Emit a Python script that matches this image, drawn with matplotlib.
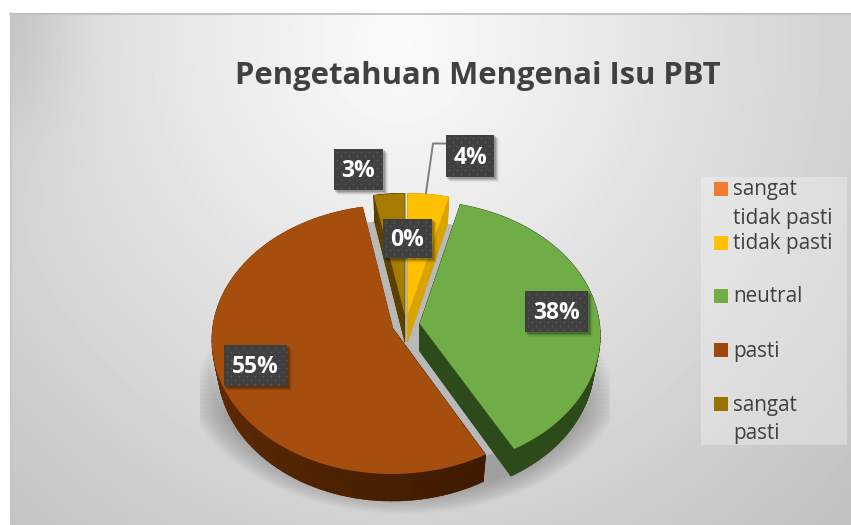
import numpy as np
from matplotlib import pyplot as plt
from matplotlib.collections import PolyCollection
from matplotlib.patches import Rectangle
from matplotlib.colors import to_rgb

categories = ["sangat\ntidak pasti", "tidak pasti", "neutral", "pasti", "sangat\npasti"]
values = [0, 4, 38, 55, 3]
colors = ["#ED7D31", "#FFC000", "#70AD47", "#A64E0E", "#A67C00"]
legend_colors = ["#ED7D31", "#FFC000", "#70AD47", "#9E480E", "#997300"]
title = "Pengetahuan Mengenai Isu PBT"

# wall colours: (near the start of the arc, near the end of the arc)
wall_colors = [
    ("#B05A20", "#B05A20"),
    ("#D9A400", "#D9A400"),
    ("#2C4A1A", "#2C4A1A"),
    ("#3E1A00", "#7E3C06"),
    ("#5C4000", "#5C4000"),
]

# label box left/top/width/height in pixels
label_boxes = [
    (383, 219, 49, 39),
    (446, 135, 48, 42),
    (525, 291, 63, 41),
    (224, 345, 63, 41),
    (334, 149, 49, 41),
]

# pie geometry (pixels)
CX, CY = 406, 325
RX = 180
K_Y = 133
PERSP = 0.082
DEPTH = 27
EXPLODE = 0.077
TEXT = "#404040"
FONT = "Open Sans"


def project(u, v, lower=False):
    # unit disc to screen, the back of the pie is a little narrower
    w = 1 + PERSP * v
    x = CX + RX * u / w
    y = CY - K_Y * v / w
    if lower:
        x = CX + (x - CX) * 0.97
        y = y + DEPTH
    return x, y


def wedge_arrays(a0, a1):
    # angles clockwise from the top, in degrees
    mid = np.radians((a0 + a1) / 2)
    ou, ov = EXPLODE * np.sin(mid), EXPLODE * np.cos(mid)
    t = np.radians(np.linspace(a0, a1, 90))
    return ou, ov, ou + np.sin(t), ov + np.cos(t)


fig = plt.figure(figsize=(8.51, 5.25), dpi=100, facecolor="white")
ax = fig.add_axes([0, 0, 1, 1])
ax.set_xlim(0, 851)
ax.set_ylim(525, 0)
ax.axis("off")

# ── Background ────────────────────────────────────────────────────────────────
xx, yy = np.meshgrid(np.linspace(10, 851, 220), np.linspace(13, 525, 140))
dist = np.sqrt(((xx - 400) / 580) ** 2 + ((yy - 40) / 620) ** 2)
bg = 0.985 - 0.21 * dist
bg -= 0.07 * np.exp(-((xx - 10) / 60) ** 2 - ((yy - 13) / 120) ** 2)
ax.imshow(bg, extent=(10, 851, 525, 13), cmap="gray", vmin=0, vmax=1,
          aspect="auto", zorder=0, interpolation="bilinear")
ax.set_xlim(0, 851)
ax.set_ylim(525, 0)
ax.plot([10, 851], [13.5, 13.5], color="#BDBDBD", lw=1.2, zorder=1)
ax.plot([10.5, 10.5], [13, 525], color="#C4C4C4", lw=1.2, zorder=1)

# ── Soft shadow under the pie ─────────────────────────────────────────────────
t = np.linspace(0, 2 * np.pi, 200)
for grow, y_top in zip(np.linspace(1.1, 0.96, 16), np.linspace(415, 350, 16)):
    sx = np.clip(404 + 205 * grow * np.cos(t), 200, 610)
    sy = np.maximum(362 + 138 * grow * np.sin(t), y_top)
    ax.fill(sx, sy, color="black", alpha=0.016, lw=0, zorder=2)
ax.fill(404 + 178 * np.cos(t), 345 + 125 * np.sin(t), color="#B9B9B9", lw=0, zorder=2)

# ── Pie ───────────────────────────────────────────────────────────────────────
fractions = np.array(values) / sum(values) * 360
ends = np.cumsum(fractions)
starts = ends - fractions
order = [4, 1, 2, 3]  # back to front, the 0 % slice has no area

z = 3
for i in order:
    ou, ov, us, vs = wedge_arrays(starts[i], ends[i])
    top_x, top_y = project(np.r_[ou, us], np.r_[ov, vs])
    low_x, low_y = project(np.r_[ou, us], np.r_[ov, vs], lower=True)

    c0, c1 = np.array(to_rgb(wall_colors[i][0])), np.array(to_rgb(wall_colors[i][1]))
    quads, quad_colors = [], []
    n = len(top_x)
    for j in range(n):
        k = (j + 1) % n
        quads.append([(top_x[j], top_y[j]), (top_x[k], top_y[k]),
                      (low_x[k], low_y[k]), (low_x[j], low_y[j])])
        quad_colors.append(c0 + (c1 - c0) * j / (n - 1))
    ax.fill(low_x, low_y, color=wall_colors[i][0], lw=0, zorder=z)
    ax.add_collection(PolyCollection(quads, facecolors=quad_colors, edgecolors=quad_colors,
                                     linewidths=0.5, zorder=z + 0.1))
    ax.fill(top_x, top_y, color=colors[i], lw=0, zorder=z + 0.2)
    z += 1

# ── Leader line for the 4 % label ─────────────────────────────────────────────
ax.plot([446, 433, 426], [143.5, 143.5, 193], color="#7F7F7F", lw=1.4, zorder=9)

# ── Data labels ───────────────────────────────────────────────────────────────
for val, (bx, by, bw, bh) in zip(values, label_boxes):
    for off, alpha in [(5, 0.05), (4, 0.08), (3, 0.12), (2, 0.16)]:
        ax.add_patch(Rectangle((bx + off - 1, by + off - 1), bw + 1, bh + 1, color="black",
                               alpha=alpha, lw=0, zorder=10))
    ax.add_patch(Rectangle((bx, by), bw, bh, color="#404040", lw=0, zorder=11))
    dx, dy = np.meshgrid(np.arange(bx + 3, bx + bw - 1, 8), np.arange(by + 3, by + bh - 1, 8))
    ax.scatter(dx.ravel(), dy.ravel(), s=1.4, color="#585858", lw=0, zorder=12)
    ax.scatter(dx.ravel()[:-1] + 4, dy.ravel()[:-1] + 4, s=1.4, color="#585858", lw=0, zorder=12)
    ax.text(bx + bw / 2, by + bh / 2 + 1.5, f"{val}%", color="white", fontsize=16.5,
            fontweight="bold", family=FONT, ha="center", va="center", zorder=13)

# ── Title ─────────────────────────────────────────────────────────────────────
ax.text(478, 76, title, color=TEXT, fontsize=22.3, fontweight="bold", family=FONT,
        ha="center", va="center", zorder=5)

# ── Legend ────────────────────────────────────────────────────────────────────
ax.add_patch(Rectangle((701, 177), 146, 268, color="white", alpha=0.3, lw=0, zorder=5))
legend_y = [189, 243, 296, 350, 404]
for name, col, ly in zip(categories, legend_colors, legend_y):
    ax.add_patch(Rectangle((714, ly - 7), 14, 14, color=col, lw=0, zorder=6))
    for n, part in enumerate(name.split("\n")):
        ax.text(733, ly + 1 + n * 28.5, part, color=TEXT, fontsize=14.9, family=FONT,
                ha="left", va="center", zorder=6)

plt.savefig("out.png", dpi=100, facecolor="white")
